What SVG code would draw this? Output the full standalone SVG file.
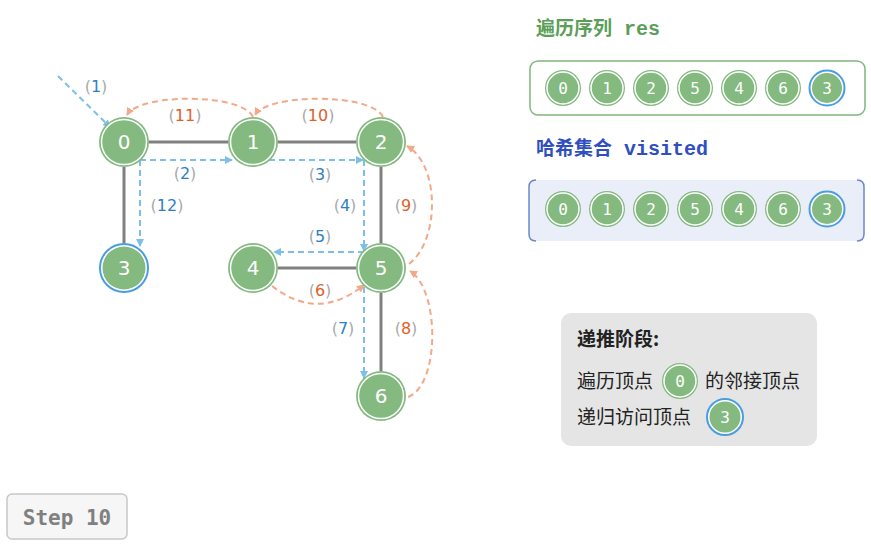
<svg xmlns="http://www.w3.org/2000/svg" width="871" height="544" viewBox="0 0 871 544">
<style>
.edge{stroke:#808080;stroke-width:3;fill:none}
.blue{stroke:#7dbfe9;stroke-width:2;stroke-dasharray:6 4;fill:none}
.orng{stroke:#f2a98a;stroke-width:2;stroke-dasharray:6 4;fill:none}
.ng{fill:#84b980}
.ring{fill:none;stroke:#fff;stroke-width:1.5}
.nt{fill:#fff;font-family:"DejaVu Sans","Noto Sans",sans-serif;font-size:20px;text-anchor:middle;dominant-baseline:central}
.st{fill:#fff;font-family:"DejaVu Sans Mono",monospace;font-size:16px;text-anchor:middle;dominant-baseline:central}
.lbl{font-family:"DejaVu Sans","Noto Sans",sans-serif;font-size:16px;text-anchor:middle;fill:#aaaaaa}
.bn{fill:#2f80c2}
.on{fill:#e0602a}
.cn{font-family:"Noto Sans CJK SC",sans-serif;font-size:19px;fill:#222}
</style>
<defs>
<marker id="ab" markerWidth="8" markerHeight="8" refX="7" refY="4" orient="auto" markerUnits="userSpaceOnUse"><path d="M0,0 L8,4 L0,8 Z" fill="#7dbfe9"/></marker>
<marker id="ao" markerWidth="8" markerHeight="8" refX="7" refY="4" orient="auto" markerUnits="userSpaceOnUse"><path d="M0,0 L8,4 L0,8 Z" fill="#f2a98a"/></marker>
</defs>
<rect width="871" height="544" fill="#fff"/>
<g id="connectors">
<line class="edge" x1="149" y1="142" x2="228" y2="142"/>
<line class="edge" x1="278" y1="142" x2="356" y2="142"/>
<line class="edge" x1="124" y1="167" x2="124" y2="243"/>
<line class="edge" x1="381" y1="167" x2="381" y2="243"/>
<line class="edge" x1="278" y1="268" x2="356" y2="268"/>
<line class="edge" x1="381" y1="293" x2="381" y2="371"/>
<path class="blue" d="M58,76 L110,127" marker-end="url(#ab)"/>
<path class="blue" d="M140,160 H232" marker-end="url(#ab)"/>
<path class="blue" d="M140,160 V246" marker-end="url(#ab)"/>
<path class="blue" d="M269,160 H363" marker-end="url(#ab)"/>
<path class="blue" d="M364,160 V251" marker-end="url(#ab)"/>
<path class="blue" d="M364,252 H274" marker-end="url(#ab)"/>
<path class="blue" d="M364,287 V378" marker-end="url(#ab)"/>
<path class="orng" d="M272,286 Q318,322 364,285" marker-end="url(#ao)"/>
<path class="orng" d="M408,397 C440,385 440,290 410,271" marker-end="url(#ao)"/>
<path class="orng" d="M409,264 C440,240 440,165 407,146" marker-end="url(#ao)"/>
<path class="orng" d="M383,117 C372,93 268,93 255,115" marker-end="url(#ao)"/>
<path class="orng" d="M253,117 C242,93 140,93 127,115" marker-end="url(#ao)"/>
</g>
<g id="labels">
<text class="lbl" x="96" y="92">(<tspan class="bn">1</tspan>)</text>
<text class="lbl" x="185" y="121">(<tspan class="on">11</tspan>)</text>
<text class="lbl" x="318" y="121">(<tspan class="on">10</tspan>)</text>
<text class="lbl" x="185" y="179">(<tspan class="bn">2</tspan>)</text>
<text class="lbl" x="320" y="180">(<tspan class="bn">3</tspan>)</text>
<text class="lbl" x="167" y="211">(<tspan class="bn">12</tspan>)</text>
<text class="lbl" x="345" y="211">(<tspan class="bn">4</tspan>)</text>
<text class="lbl" x="406" y="211">(<tspan class="on">9</tspan>)</text>
<text class="lbl" x="320" y="242">(<tspan class="bn">5</tspan>)</text>
<text class="lbl" x="320" y="296">(<tspan class="on">6</tspan>)</text>
<text class="lbl" x="343" y="334">(<tspan class="bn">7</tspan>)</text>
<text class="lbl" x="406" y="334">(<tspan class="on">8</tspan>)</text>
</g>
<g id="n0"><circle class="ng" cx="124" cy="142" r="25"/><circle class="ring" cx="124" cy="142" r="22.5"/><text class="nt" x="124" y="142" font-family="'DejaVu Sans Mono',monospace">0</text></g>
<g id="n1"><circle class="ng" cx="253" cy="142" r="25"/><circle class="ring" cx="253" cy="142" r="22.5"/><text class="nt" x="253" y="142">1</text></g>
<g id="n2"><circle class="ng" cx="381" cy="142" r="25"/><circle class="ring" cx="381" cy="142" r="22.5"/><text class="nt" x="381" y="142">2</text></g>
<g id="n3"><circle cx="124" cy="268" r="24" fill="#fff" stroke="#4a9ee0" stroke-width="2"/><circle class="ng" cx="124" cy="268" r="21.5"/><text class="nt" x="124" y="268">3</text></g>
<g id="n4"><circle class="ng" cx="253" cy="268" r="25"/><circle class="ring" cx="253" cy="268" r="22.5"/><text class="nt" x="253" y="268">4</text></g>
<g id="n5"><circle class="ng" cx="381" cy="268" r="25"/><circle class="ring" cx="381" cy="268" r="22.5"/><text class="nt" x="381" y="268">5</text></g>
<g id="n6"><circle class="ng" cx="381" cy="396" r="25"/><circle class="ring" cx="381" cy="396" r="22.5"/><text class="nt" x="381" y="396">6</text></g>
<g id="res">
<text x="536" y="35" font-family="'Noto Sans CJK SC',sans-serif" font-size="19" font-weight="bold" fill="#5a9e57">遍历序列<tspan dx="12" font-family="'Liberation Mono','DejaVu Sans Mono',monospace" font-size="20">res</tspan></text>
<rect x="530" y="61" width="335" height="54" rx="8" fill="#fff" stroke="#7fb77c" stroke-width="1.5"/>
<g>
<circle class="ng" cx="563" cy="88" r="18"/><circle class="ring" cx="563" cy="88" r="16"/><text class="st" x="563" y="88">0</text>
<circle class="ng" cx="607" cy="88" r="18"/><circle class="ring" cx="607" cy="88" r="16"/><text class="st" x="607" y="88">1</text>
<circle class="ng" cx="651" cy="88" r="18"/><circle class="ring" cx="651" cy="88" r="16"/><text class="st" x="651" y="88">2</text>
<circle class="ng" cx="695" cy="88" r="18"/><circle class="ring" cx="695" cy="88" r="16"/><text class="st" x="695" y="88">5</text>
<circle class="ng" cx="739" cy="88" r="18"/><circle class="ring" cx="739" cy="88" r="16"/><text class="st" x="739" y="88">4</text>
<circle class="ng" cx="783" cy="88" r="18"/><circle class="ring" cx="783" cy="88" r="16"/><text class="st" x="783" y="88">6</text>
<circle cx="827" cy="88" r="17.5" fill="#fff" stroke="#4a9ee0" stroke-width="2"/><circle class="ng" cx="827" cy="88" r="15"/><text class="st" x="827" y="88">3</text>
</g>
</g>
<g id="visited">
<text x="536" y="155" font-family="'Noto Sans CJK SC',sans-serif" font-size="19" font-weight="bold" fill="#2f4fbf">哈希集合<tspan dx="12" font-family="'Liberation Mono','DejaVu Sans Mono',monospace" font-size="20">visited</tspan></text>
<rect x="529" y="180" width="335" height="61" rx="6" fill="#e9eef9"/>
<path d="M536,180 Q529,180 529,187 V234 Q529,241 536,241" fill="none" stroke="#6f85cc" stroke-width="1.5"/>
<path d="M857,180 Q864,180 864,187 V234 Q864,241 857,241" fill="none" stroke="#6f85cc" stroke-width="1.5"/>
<g>
<circle class="ng" cx="563" cy="209" r="18"/><circle class="ring" cx="563" cy="209" r="16"/><text class="st" x="563" y="209">0</text>
<circle class="ng" cx="607" cy="209" r="18"/><circle class="ring" cx="607" cy="209" r="16"/><text class="st" x="607" y="209">1</text>
<circle class="ng" cx="651" cy="209" r="18"/><circle class="ring" cx="651" cy="209" r="16"/><text class="st" x="651" y="209">2</text>
<circle class="ng" cx="695" cy="209" r="18"/><circle class="ring" cx="695" cy="209" r="16"/><text class="st" x="695" y="209">5</text>
<circle class="ng" cx="739" cy="209" r="18"/><circle class="ring" cx="739" cy="209" r="16"/><text class="st" x="739" y="209">4</text>
<circle class="ng" cx="783" cy="209" r="18"/><circle class="ring" cx="783" cy="209" r="16"/><text class="st" x="783" y="209">6</text>
<circle cx="827" cy="209" r="17.5" fill="#fff" stroke="#4a9ee0" stroke-width="2"/><circle class="ng" cx="827" cy="209" r="15"/><text class="st" x="827" y="209">3</text>
</g>
</g>
<g id="info">
<rect x="561" y="313" width="256" height="133" rx="10" fill="#e5e5e5"/>
<text class="cn" x="577" y="346" font-weight="bold">递推阶段:</text>
<text class="cn" x="577" y="388">遍历顶点</text>
<circle class="ng" cx="680" cy="381" r="18"/><circle class="ring" cx="680" cy="381" r="16"/><text class="st" x="680" y="381">0</text>
<text class="cn" x="705" y="388">的邻接顶点</text>
<text class="cn" x="577" y="424">递归访问顶点</text>
<circle cx="725" cy="417" r="18" fill="#fff" stroke="#4a9ee0" stroke-width="2"/><circle class="ng" cx="725" cy="417" r="15.5"/><text class="st" x="725" y="417">3</text>
</g>
<g id="step">
<rect x="7" y="494" width="120" height="45" rx="5" fill="#f6f6f6" stroke="#c8c8c8" stroke-width="1.5"/>
<text x="67" y="525" font-family="'DejaVu Sans Mono',monospace" font-size="21" font-weight="bold" fill="#808080" text-anchor="middle">Step 10</text>
</g>
</svg>
